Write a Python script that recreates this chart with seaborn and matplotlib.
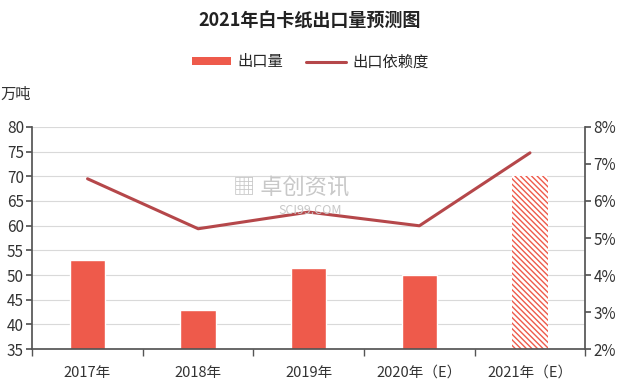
import numpy as np
import pandas as pd
import matplotlib
matplotlib.use("Agg")
import matplotlib.pyplot as plt
import seaborn as sns
from matplotlib.patches import Patch
from matplotlib.lines import Line2D

categories = ["2017年", "2018年", "2019年", "2020年（E）", "2021年（E）"]
export_volume = [53, 43, 51.5, 50, 70]          # 万吨
export_dependency = [6.6, 5.25, 5.7, 5.33, 7.3]  # %

sns.set_theme(style="white")
plt.rcParams['font.family'] = ['Noto Sans CJK SC', 'DejaVu Sans']
plt.rcParams['hatch.linewidth'] = 1.0
plt.rcParams['hatch.color'] = '#ee5a4b'

bar_color = '#ee5a4b'
line_color = '#b5474a'
text_color = '#333333'

df = pd.DataFrame({"year": categories, "volume": export_volume, "rate": export_dependency})

fig = plt.figure(figsize=(6.2, 3.87), dpi=100)
ax = fig.add_axes([0.052, 0.098, 0.892, 0.574])

sns.barplot(data=df, x="year", y="volume", color=bar_color, saturation=1, width=0.32, ax=ax)
bars = ax.patches
last = bars[-1]
last.set_facecolor('white')
last.set_hatch('\\\\\\\\\\\\')
last.set_edgecolor(bar_color)
last.set_linewidth(0)

ax.set_ylim(35, 80)
ax.set_yticks(np.arange(35, 81, 5))
ax.set_xlim(-0.5, len(categories) - 0.5)
ax.set_xlabel("")
ax.set_ylabel("")
ax.grid(axis='y', color='#d9d9d9', linewidth=0.8)
ax.set_axisbelow(True)

ax2 = ax.twinx()
sns.lineplot(x=np.arange(len(categories)), y=df["rate"], color=line_color, linewidth=2.2, ax=ax2)
ax2.set_ylim(2, 8)
ax2.set_yticks(np.arange(2, 9, 1))
ax2.set_yticklabels([f"{v}%" for v in range(2, 9)])
ax2.set_ylabel("")
ax2.grid(False)

for a in (ax, ax2):
    for s in a.spines.values():
        s.set_visible(False)
ax.spines['left'].set_visible(True)
ax.spines['left'].set_color('#555555')
ax.spines['bottom'].set_visible(True)
ax.spines['bottom'].set_color('#555555')
ax2.spines['right'].set_visible(True)
ax2.spines['right'].set_color('#555555')

ax.tick_params(axis='y', left=True, length=4, color='#555555', labelsize=11, labelcolor=text_color, pad=2)
ax.set_xticks(np.arange(len(categories)))
ax.set_xticklabels(categories)
ax.tick_params(axis='x', bottom=False, labelsize=10.5, labelcolor=text_color, pad=6)
ax.set_xticks(np.arange(-0.5, len(categories), 1), minor=True)
ax.tick_params(axis='x', which='minor', bottom=True, length=5, color='#555555', direction='out')
ax2.tick_params(axis='y', right=True, length=4, color='#555555', labelsize=11, labelcolor=text_color, pad=2)

# watermark
fig.text(0.47, 0.515, "▦ 卓创资讯", fontsize=16, color='#c8c8c8', ha='center', va='center', zorder=0)
fig.text(0.50, 0.455, "SCI99.COM", fontsize=9, color='#c8c8c8', ha='center', va='center', zorder=0)

fig.text(0.5, 0.945, "2021年白卡纸出口量预测图", ha='center', va='center', fontsize=13,
         fontweight='bold', color='#222222')
fig.text(0.0, 0.755, "万吨", ha='left', va='center', fontsize=11, color=text_color)

handles = [Patch(facecolor=bar_color, edgecolor='none'),
           Line2D([0], [0], color=line_color, linewidth=2.2)]
fig.legend(handles, ["出口量", "出口依赖度"], loc='center', bbox_to_anchor=(0.5, 0.84), ncol=2,
           frameon=False, fontsize=11, handlelength=2.6, handleheight=0.5, columnspacing=1.5,
           handletextpad=0.4)

fig.savefig("out.png", dpi=100)
